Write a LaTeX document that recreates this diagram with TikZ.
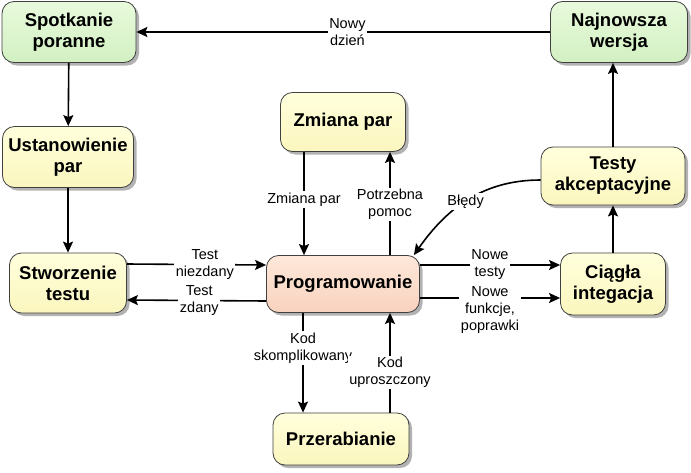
\documentclass[tikz,border=0pt]{standalone}
\usepackage{fontspec}
\setmainfont{Liberation Sans}
\usetikzlibrary{arrows.meta,shadows}

\definecolor{gtop}{HTML}{E8FADC}
\definecolor{gbot}{HTML}{D2F0C2}
\definecolor{ytop}{HTML}{FFFFDC}
\definecolor{ybot}{HTML}{FBF6BE}
\definecolor{rtop}{HTML}{FEE8DA}
\definecolor{rbot}{HTML}{F8D2BE}

\begin{document}
\begin{tikzpicture}[x=1pt, y=-1pt, >={Stealth[length=11pt,width=10pt,inset=2pt]},
    box/.style={draw=black!75, line width=0.8pt, rounded corners=12pt, align=center,
        font=\fontsize{18.5}{21}\selectfont\bfseries,
        drop shadow={shadow xshift=3pt, shadow yshift=-3pt, fill=black!30, opacity=1}},
    gbox/.style={box, top color=gtop, bottom color=gbot},
    ybox/.style={box, top color=ytop, bottom color=ybot},
    rbox/.style={box, top color=rtop, bottom color=rbot},
    lbl/.style={fill=white, align=center, inner sep=1.5pt, font=\fontsize{14.5}{17}\selectfont},
    arr/.style={->, line width=1.6pt}]
    \useasboundingbox (0,0) rectangle (691,472);

    % wezly
    \node[gbox, minimum width=134, minimum height=61] (spot) at (69,32) {Spotkanie\\poranne};
    \node[gbox, minimum width=137, minimum height=61] (najn) at (619,32) {Najnowsza\\wersja};
    \node[ybox, minimum width=131, minimum height=61] (ust) at (68,157) {Ustanowienie\\par};
    \node[ybox, minimum width=117, minimum height=60] (stw) at (68,283) {Stworzenie\\testu};
    \node[ybox, minimum width=125, minimum height=59] (zm) at (343,122) {Zmiana par};
    \node[rbox, minimum width=153, minimum height=57] (prog) at (343,284) {Programowanie};
    \node[ybox, minimum width=136, minimum height=52] (prz) at (341,439) {Przerabianie};
    \node[ybox, minimum width=144, minimum height=58] (test) at (613,176) {Testy\\akceptacyjne};
    \node[ybox, minimum width=105, minimum height=62] (ciag) at (613,284) {Ciągła\\integacja};

    % cykl dnia
    \draw[arr] (najn) -- node[lbl, pos=0.49] {Nowy\\dzień} (spot);
    \draw[arr] (spot) -- (ust);
    \draw[arr] (ust) -- (stw);

    % test i programowanie
    \draw[arr] ([yshift=19]stw.east) -- node[lbl, pos=0.56] {Test\\niezdany} ([yshift=19]prog.west);
    \draw[arr] ([yshift=-17]prog.west) -- node[lbl, pos=0.48] {Test\\zdany} ([yshift=-17]stw.east);
    \draw[arr] ([xshift=-39]zm.south) -- node[lbl, pos=0.46] {Zmiana par} ([xshift=-39]prog.north);
    \draw[arr] ([xshift=47]prog.north) -- node[lbl, pos=0.49] {Potrzebna\\pomoc} ([xshift=47]zm.south);
    \draw[arr] ([xshift=-40]prog.south) -- node[lbl, pos=0.35] {Kod\\skomplikowany} ([xshift=-38]prz.north);
    \draw[arr] ([xshift=49]prz.north) -- node[lbl, pos=0.4] {Kod\\uproszczony} ([xshift=47]prog.south);

    % integracja
    \draw[arr] ([yshift=19]prog.east) -- node[lbl, pos=0.5] {Nowe\\testy} ([yshift=19]ciag.west);
    \draw[arr] ([yshift=-14]prog.east) -- node[lbl, pos=0.5, yshift=-12pt] {Nowe\\funkcje,\\poprawki} ([yshift=-14]ciag.west);
    \draw[arr] (ciag) -- (test);
    \draw[arr] (test.north) -- (test.north |- najn.south);
    \draw[arr] ([yshift=-4]test.west) to[out=180, in=55] node[lbl, pos=0.52] {Błędy} ([xshift=-6]prog.north east);
\end{tikzpicture}
\end{document}
